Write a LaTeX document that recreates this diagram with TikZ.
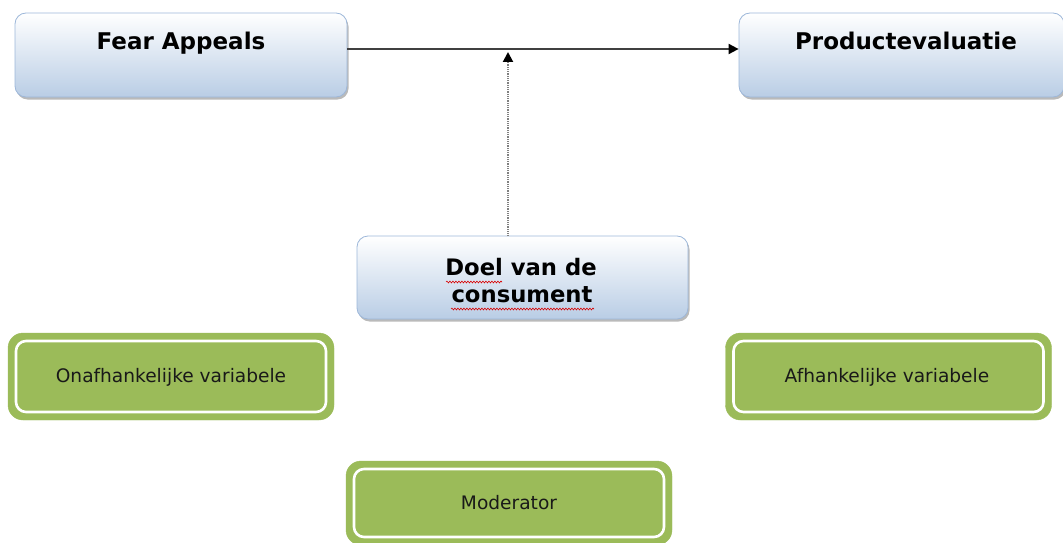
\documentclass[tikz,border=0pt]{standalone}
\usepackage{fontspec}
\setmainfont{DejaVu Sans}
\usetikzlibrary{arrows.meta,shadows,decorations.pathmorphing}
\definecolor{boxblue}{HTML}{B9CDE5}
\definecolor{bordblue}{HTML}{9DB7D9}
\definecolor{gbgreen}{HTML}{9BBB59}
\definecolor{linegray}{HTML}{404040}
\tikzset{
  bluebox/.style={draw=bordblue, line width=0.8pt, rounded corners=11pt,
    top color=white, bottom color=boxblue, minimum width=332pt, minimum height=84pt,
    inner sep=0pt, drop shadow={shadow xshift=1.5pt, shadow yshift=-2.5pt, fill=black!60, opacity=0.45}},
  bluetext/.style={anchor=base, font=\bfseries\fontsize{23}{27}\selectfont, text=black, inner sep=0pt},
  greenbox/.style={fill=gbgreen, draw=gbgreen, rounded corners=15pt, minimum width=326pt,
    minimum height=87pt, inner sep=0pt},
  greeninner/.style={draw=white, line width=2.6pt, rounded corners=10pt, minimum width=310pt,
    minimum height=71pt, inner sep=0pt},
  greentext/.style={font=\fontsize{18.6}{22}\selectfont, text=black!90, inner sep=0pt},
  spell/.style={draw=red!85!black, line width=0.6pt, decorate,
    decoration={snake, segment length=3pt, amplitude=0.9pt}},
  mainarrow/.style={draw=linegray, line width=1.9pt, -{Triangle[length=10pt,width=10pt,color=black]}},
  dotarrow/.style={draw=gray, line width=2pt, dash pattern=on 1pt off 0.8pt,
    -{Triangle[length=10pt,width=10pt,color=black]}}
}
\begin{document}
\begin{tikzpicture}[x=1pt,y=-1pt]
\useasboundingbox (0,0) rectangle (1063,543);
% blue boxes
\node[bluebox] (fa) at (181,55) {};
\node[bluetext] (fat) at (181,50) {Fear Appeals};
\node[bluebox, minimum width=325pt] (pe) at (901.5,55) {};
\node[bluetext] (pet) at (906,50) {Productevaluatie};
\node[bluebox, minimum width=331pt, minimum height=83pt] (dc) at (522.5,277.5) {};
\node[bluetext, font=\bfseries\fontsize{22.7}{27}\selectfont] (dct1) at (521,275) {Doel van de};
\node[bluetext, font=\bfseries\fontsize{22.7}{27}\selectfont] (dct2) at (522,302) {consument};
% spelling squiggles
\coordinate (s1a) at (446,282); \coordinate (s1b) at (502,282);
\coordinate (s2a) at (451,309); \coordinate (s2b) at (594,309);
\draw[spell] (s1a) -- (s1b);
\draw[spell] (s2a) -- (s2b);
% connectors
\coordinate (mtop) at (508,52);
\draw[mainarrow] ([yshift=6pt]fa.east) -- ([yshift=6pt]pe.west);
\draw[dotarrow] (dc.north -| mtop) -- (mtop);
% green boxes
\node[greenbox] (ov) at (171,376.5) {};
\node[greeninner] (ovi) at (171,376.5) {};
\node[greentext] (ovt) at (171,377) {Onafhankelijke variabele};
\node[greenbox] (av) at (888.5,376.5) {};
\node[greeninner] (avi) at (888.5,376.5) {};
\node[greentext] (avt) at (887,377) {Afhankelijke variabele};
\node[greenbox, minimum height=84pt] (mo) at (509,503) {};
\node[greeninner, minimum height=68pt] (moi) at (509,503) {};
\node[greentext] (mot) at (509,503) {Moderator};
\end{tikzpicture}
\end{document}
